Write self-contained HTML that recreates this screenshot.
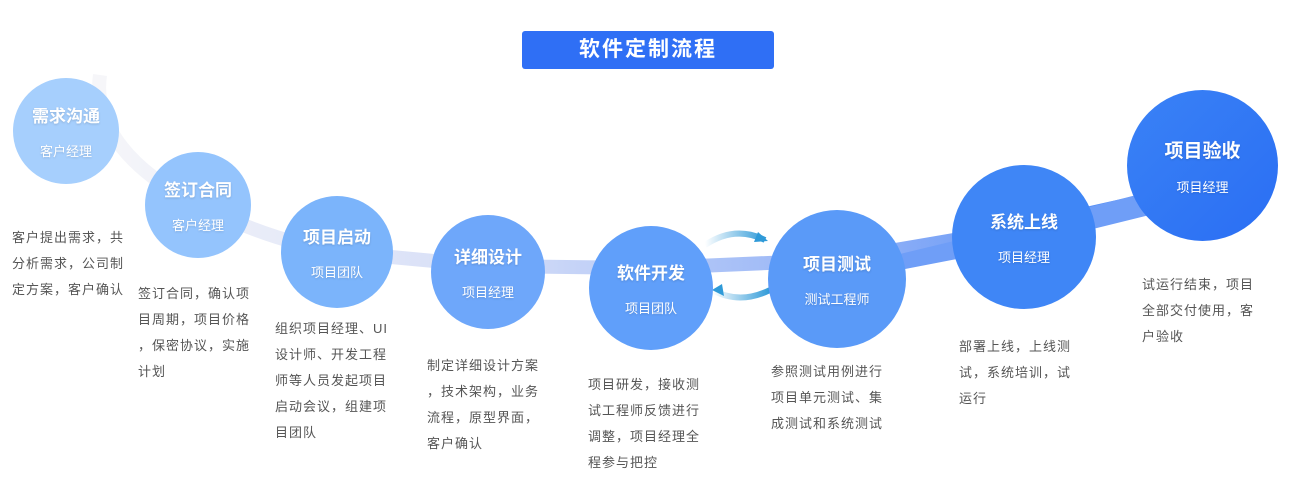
<!DOCTYPE html>
<html><head><meta charset="utf-8"><style>
body{margin:0;width:1300px;height:491px;background:#fff;position:relative;overflow:hidden;font-family:"Liberation Sans","Noto Sans CJK SC",sans-serif}
.t{position:absolute;color:#555;font-size:13px;line-height:26px;letter-spacing:1px;white-space:nowrap}
.c{position:absolute;border-radius:50%;color:#fff;text-align:center;display:flex;flex-direction:column;justify-content:center;align-items:center;text-shadow:0 1px 2px rgba(0,0,0,.15)}
.c b{display:block;font-size:17px;margin-bottom:14px}
.c span{font-size:13px}
</style></head><body>
<svg width="1300" height="491" style="position:absolute;left:0;top:0">
<defs><linearGradient id="g" x1="0" x2="1"><stop offset="0" stop-color="#f6f6f9"/><stop offset=".35" stop-color="#d6def7"/><stop offset=".7" stop-color="#8fb0f7"/><stop offset="1" stop-color="#3c7ff5"/></linearGradient>
<linearGradient id="a" x1="0" x2="1"><stop offset="0" stop-color="#fff"/><stop offset="1" stop-color="#2f9ad8"/></linearGradient></defs>
<path d="M100,75 C95,110 110,160 198,205 C260,235 300,245 337,252 L488,266 L651,268 L837,260 L1024,228 L1202,188" fill="none" stroke="url(#g)" stroke-width="14"/>
<path d="M900,254 L1024,224 L1202,178 L1202,202 L1024,246 L900,270 Z" fill="#6f9ef7"/>
<path d="M705,245 Q735,225 765,240" fill="none" stroke="url(#a)" stroke-width="6"/>
<path d="M758,232 L768,241 L754,242 Z" fill="#2f9ad8"/>
<path d="M770,290 Q740,305 712,290" fill="none" stroke="url(#a)" stroke-width="6"/>
<path d="M712,290 L722,284 L724,296 Z" fill="#2f9ad8"/>
</svg>
<div style="position:absolute;left:522px;top:31px;width:252px;height:38px;background:#2f6ff5;border-radius:3px;color:#fff;font-size:21px;font-weight:bold;text-align:center;line-height:38px;letter-spacing:2px">软件定制流程</div>
<div class="c" style="left:13px;top:78px;width:106px;height:106px;background:#a6cffd"><b>需求沟通</b><span>客户经理</span></div>
<div class="c" style="left:145px;top:152px;width:106px;height:106px;background:#94c4fd"><b>签订合同</b><span>客户经理</span></div>
<div class="c" style="left:281px;top:196px;width:112px;height:112px;background:#7bb4fb"><b>项目启动</b><span>项目团队</span></div>
<div class="c" style="left:431px;top:215px;width:114px;height:114px;background:#6ea7fa"><b>详细设计</b><span>项目经理</span></div>
<div class="c" style="left:589px;top:226px;width:124px;height:124px;background:#609ffa"><b>软件开发</b><span>项目团队</span></div>
<div class="c" style="left:768px;top:210px;width:138px;height:138px;background:#5a9af8"><b>项目测试</b><span>测试工程师</span></div>
<div class="c" style="left:952px;top:165px;width:144px;height:144px;background:#3f86f6"><b>系统上线</b><span>项目经理</span></div>
<div class="c" style="left:1127px;top:90px;width:151px;height:151px;background:linear-gradient(135deg,#3a82f6,#2a6ef3)"><b style="font-size:19px">项目验收</b><span>项目经理</span></div>
<div class="t" style="left:12px;top:225px">客户提出需求，共<br>分析需求，公司制<br>定方案，客户确认</div>
<div class="t" style="left:138px;top:281px">签订合同，确认项<br>目周期，项目价格<br>，保密协议，实施<br>计划</div>
<div class="t" style="left:275px;top:316px">组织项目经理、UI<br>设计师、开发工程<br>师等人员发起项目<br>启动会议，组建项<br>目团队</div>
<div class="t" style="left:427px;top:353px">制定详细设计方案<br>，技术架构，业务<br>流程，原型界面，<br>客户确认</div>
<div class="t" style="left:588px;top:372px">项目研发，接收测<br>试工程师反馈进行<br>调整，项目经理全<br>程参与把控</div>
<div class="t" style="left:771px;top:359px">参照测试用例进行<br>项目单元测试、集<br>成测试和系统测试</div>
<div class="t" style="left:959px;top:334px">部署上线，上线测<br>试，系统培训，试<br>运行</div>
<div class="t" style="left:1142px;top:272px">试运行结束，项目<br>全部交付使用，客<br>户验收</div>
</body></html>
